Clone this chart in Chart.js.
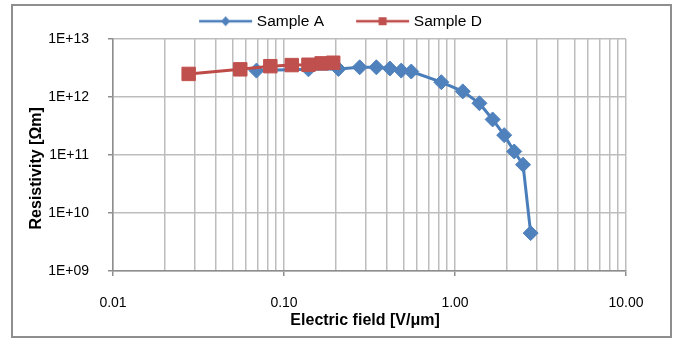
<!DOCTYPE html>
<html>
<head>
<meta charset="utf-8">
<script src="https://cdn.jsdelivr.net/npm/chart.js@4/dist/chart.umd.min.js"></script>
<style>
  body { margin: 0; background: #fff; }
  #wrap { position: relative; width: 679px; height: 342px; }
  #frame { position: absolute; left: 11px; top: 4px; width: 657px; height: 330px; border: 2px solid #8e8e8e; pointer-events: none; }
</style>
</head>
<body>
<div id="wrap">
  <canvas id="chart" width="679" height="342"></canvas>
  <div id="frame"></div>
</div>
<script>
// values (electric field in V/µm, resistivity in Ωm)
const fieldA = [0.069, 0.139, 0.208, 0.277, 0.347, 0.416, 0.485, 0.555, 0.832, 1.11, 1.39, 1.66, 1.94, 2.22, 2.50, 2.77];
const resA = [2.85e12, 3.0e12, 3.05e12, 3.25e12, 3.25e12, 3.1e12, 2.85e12, 2.75e12, 1.8e12, 1.25e12, 7.8e11, 4.1e11, 2.2e11, 1.15e11, 6.8e10, 4.5e9];
const fieldD = [0.0277, 0.0555, 0.0832, 0.111, 0.139, 0.166, 0.194];
const resD = [2.5e12, 3.0e12, 3.4e12, 3.55e12, 3.6e12, 3.8e12, 3.9e12];

const seriesNames = ['Sample A', 'Sample D'];
const xMajorTicks = [0.01, 0.1, 1, 10];
const xTickLabels = ['0.01', '0.10', '1.00', '10.00'];
const yTicks = [1e9, 1e10, 1e11, 1e12, 1e13];
const yTickLabels = ['1E+09', '1E+10', '1E+11', '1E+12', '1E+13'];

const blue = '#4f81bd', blueLine = '#4a7ebb';
const red = '#c0504d', redLine = '#be4b48';

// legend icon: line with the marker in the middle, like the excel legend
function legendIcon(lineColor, fill, shape) {
    const c = document.createElement('canvas');
    c.width = 80; c.height = 16;
    const g = c.getContext('2d');
    g.strokeStyle = lineColor; g.lineWidth = 2.5;
    g.beginPath(); g.moveTo(26, 8); g.lineTo(79, 8); g.stroke();
    g.fillStyle = fill;
    if (shape === 'diamond') {
        g.beginPath();
        g.moveTo(52.5, 3); g.lineTo(57, 8); g.lineTo(52.5, 13); g.lineTo(48, 8);
        g.closePath(); g.fill();
    } else {
        g.fillRect(48.5, 4, 8, 8);
    }
    return c;
}
const icons = [legendIcon(blueLine, blue, 'diamond'), legendIcon(redLine, red, 'square')];

// every 1..9 x 10^n position on the x axis gets a grid line
const xGridTicks = [];
for (let e = -2; e < 1; e++) {
    for (let k = 1; k <= 9; k++) xGridTicks.push(k * Math.pow(10, e));
}
xGridTicks.push(10);

new Chart(document.getElementById('chart'), {
    type: 'line',
    data: {
        datasets: [
            {
                label: seriesNames[0],
                data: fieldA.map((x, i) => ({ x: x, y: resA[i] })),
                borderColor: blueLine, backgroundColor: blue,
                borderWidth: 3,
                pointStyle: 'rectRot', pointRadius: 7.5,
                pointBackgroundColor: blue, pointBorderColor: blue, pointBorderWidth: 1,
                order: 1
            },
            {
                label: seriesNames[1],
                data: fieldD.map((x, i) => ({ x: x, y: resD[i] })),
                borderColor: redLine, backgroundColor: red,
                borderWidth: 3,
                pointStyle: 'rect', pointRadius: 9.5,
                pointBackgroundColor: red, pointBorderColor: red, pointBorderWidth: 1,
                order: 0
            }
        ]
    },
    options: {
        responsive: false,
        animation: false,
        devicePixelRatio: 1,
        layout: { padding: { top: 3.5, right: 20, left: 0, bottom: 0 } },
        plugins: {
            tooltip: { enabled: false },
            legend: {
                position: 'top',
                labels: {
                    usePointStyle: true,
                    pointStyleWidth: 72,
                    padding: 10,
                    color: '#000',
                    font: { family: 'Liberation Sans, Arial, sans-serif', size: 15.5 },
                    sort: (a, b) => a.datasetIndex - b.datasetIndex,
                    generateLabels: (chart) => {
                        const items = Chart.defaults.plugins.legend.labels.generateLabels(chart);
                        return items.map(item => {
                            item.pointStyle = icons[item.datasetIndex];
                            return item;
                        });
                    }
                }
            }
        },
        scales: {
            x: {
                type: 'logarithmic',
                min: 0.01, max: 10,
                afterBuildTicks: (scale) => {
                    scale.ticks = xGridTicks.map(v => ({ value: v, major: xMajorTicks.includes(v) }));
                },
                afterFit: (scale) => { scale.height = 71; },
                ticks: {
                    autoSkip: false, maxRotation: 0, padding: 19,
                    color: '#000',
                    font: { family: 'Liberation Sans, Arial, sans-serif', size: 14 },
                    callback: function (value) {
                        const i = xMajorTicks.indexOf(value);
                        return i >= 0 ? xTickLabels[i] : '';
                    }
                },
                grid: {
                    color: '#bdbdbd', lineWidth: 1.5, tickLength: 5,
                    tickColor: (ctx) => (ctx.tick && ctx.tick.major) ? '#8e8e8e' : 'rgba(0,0,0,0)'
                },
                border: { color: '#8e8e8e', width: 1.5 },
                title: {
                    display: true,
                    text: 'Electric field [V/μm]  ',
                    color: '#000',
                    font: { family: 'Liberation Sans, Arial, sans-serif', size: 16, weight: 'bold' },
                    padding: { top: 0, bottom: 12 }
                }
            },
            y: {
                type: 'logarithmic',
                min: 1e9, max: 1e13,
                afterBuildTicks: (scale) => {
                    scale.ticks = yTicks.map(v => ({ value: v }));
                },
                afterFit: (scale) => { scale.width = 113; },
                ticks: {
                    padding: 19,
                    color: '#000',
                    font: { family: 'Liberation Sans, Arial, sans-serif', size: 14 },
                    callback: function (value) {
                        return yTickLabels[yTicks.indexOf(value)];
                    }
                },
                grid: { color: '#bdbdbd', lineWidth: 1.5, tickLength: 5, tickColor: '#8e8e8e' },
                border: { color: '#8e8e8e', width: 1.5 },
                title: {
                    display: true,
                    text: 'Resistivity [Ωm]      ',
                    color: '#000',
                    font: { family: 'Liberation Sans, Arial, sans-serif', size: 16, weight: 'bold' },
                    padding: { top: 27, bottom: 0 }
                }
            },
            // empty axis on the right, only keeps the plot edge where the original has it
            yRight: {
                type: 'linear',
                position: 'right',
                ticks: { display: false },
                grid: { display: false },
                border: { display: false },
                afterFit: (scale) => { scale.width = 33; }
            }
        }
    }
});
</script>
</body>
</html>
